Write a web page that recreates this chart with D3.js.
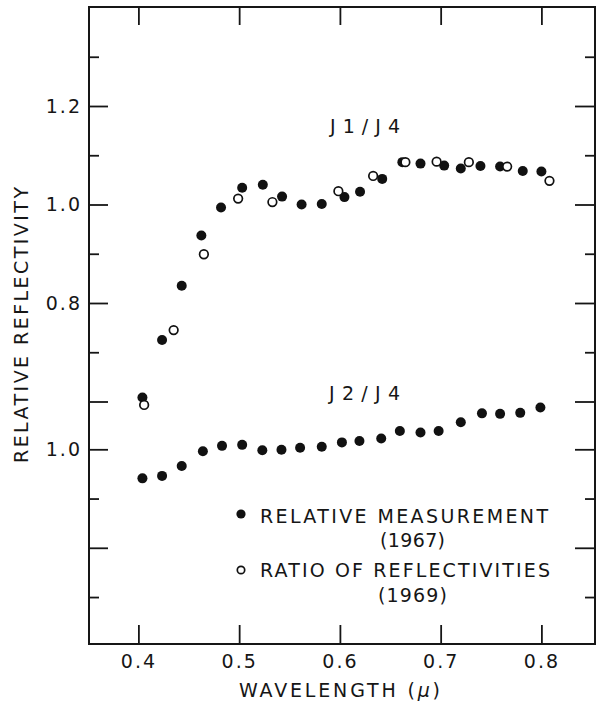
<!DOCTYPE html>
<html>
<head>
<meta charset="utf-8">
<title>Relative reflectivity</title>
<style>
body { margin: 0; background: #fff; }
text {
  fill: #161616;
  font-family: "DejaVu Sans", sans-serif;
  font-size: 19px;
}
.axis line { stroke: #161616; stroke-width: 1.8px; }
.axis path { display: none; }
.axis text { letter-spacing: 2px; }
.frame { fill: none; stroke: #161616; stroke-width: 2px; }
circle.filled { fill: #111; }
circle.open { fill: #fff; stroke: #111; stroke-width: 1.7px; }
</style>
</head>
<body>
<script src="https://cdn.jsdelivr.net/npm/d3@7"></script>
<script>

// J1/J4, relative measurement (1967)
var j1Wave = [0.404, 0.4235, 0.443, 0.4625, 0.482, 0.503, 0.5235, 0.5426, 0.562, 0.582, 0.6045,
              0.620, 0.642, 0.662, 0.680, 0.7035, 0.720, 0.7395, 0.759, 0.7815, 0.800];
var j1Meas = [0.608, 0.725, 0.835, 0.937, 0.994, 1.034, 1.040, 1.016, 1.000, 1.001, 1.015,
              1.026, 1.052, 1.086, 1.083, 1.079, 1.073, 1.078, 1.077, 1.068, 1.067];

// J1/J4, ratio of reflectivities (1969)
var j1RatioWave = [0.4057, 0.435, 0.465, 0.499, 0.533, 0.5985, 0.633, 0.665, 0.696, 0.728, 0.766, 0.808];
var j1Ratio     = [0.593, 0.745, 0.899, 1.012, 1.005, 1.027, 1.058, 1.086, 1.087, 1.086, 1.077, 1.048];

// J2/J4, relative measurement (1967)
var j2Wave = [0.404, 0.4235, 0.443, 0.464, 0.483, 0.503, 0.523, 0.542, 0.5605, 0.582, 0.602,
              0.6194, 0.641, 0.6595, 0.680, 0.698, 0.720, 0.741, 0.759, 0.779, 0.799];
var j2Meas = [0.941, 0.946, 0.966, 0.996, 1.007, 1.009, 0.998, 0.999, 1.003, 1.005, 1.014,
              1.017, 1.022, 1.037, 1.034, 1.037, 1.055, 1.073, 1.072, 1.074, 1.085];

var xTicks = [0.4, 0.5, 0.6, 0.7, 0.8];
var upperMajor = [1.2, 1.0, 0.8, 0.6],
    upperMinor = [1.3, 1.1, 0.9, 0.7],
    upperLabels = [1.2, 1.0, 0.8];
var lowerMajor = [1.0, 0.8],
    lowerMinor = [0.9, 0.7],
    lowerLabels = [1.0];

var width = 601, height = 702;
var fLeft = 89, fRight = 595, fTop = 7, fBottom = 644;

var svg = d3.select("body").append("svg")
    .attr("width", width)
    .attr("height", height);

var x = d3.scaleLinear().domain([0.4, 0.8]).range([138.4, 541.4]);
var yUp = d3.scaleLinear().domain([1.2, 0.8]).range([106, 303]);
var yLow = d3.scaleLinear().domain([1.0, 0.8]).range([449.3, 547.8]);

var fmt = d3.format(".1f");
function labelOnly(list) {
  return function(d) { return list.indexOf(d) >= 0 ? fmt(d) : ""; };
}

// bottom and top ticks point inward
svg.append("g").attr("class", "axis")
    .attr("transform", "translate(0," + fBottom + ")")
    .call(d3.axisBottom(x).tickValues(xTicks).tickSize(-19).tickPadding(11).tickFormat(fmt));
svg.append("g").attr("class", "axis")
    .attr("transform", "translate(0," + fTop + ")")
    .call(d3.axisTop(x).tickValues(xTicks).tickSize(-18).tickFormat(""));

// left and right sides: two stacked scales
function sideTicks(scale, major, minor, labels) {
  svg.append("g").attr("class", "axis")
      .attr("transform", "translate(" + fLeft + ",0)")
      .call(d3.axisLeft(scale).tickValues(major).tickSize(-19).tickPadding(7).tickFormat(labelOnly(labels)));
  svg.append("g").attr("class", "axis")
      .attr("transform", "translate(" + fLeft + ",0)")
      .call(d3.axisLeft(scale).tickValues(minor).tickSize(-10).tickFormat(""));
  svg.append("g").attr("class", "axis")
      .attr("transform", "translate(" + fRight + ",0)")
      .call(d3.axisRight(scale).tickValues(major).tickSize(-20).tickFormat(""));
  svg.append("g").attr("class", "axis")
      .attr("transform", "translate(" + fRight + ",0)")
      .call(d3.axisRight(scale).tickValues(minor).tickSize(-10).tickFormat(""));
}
sideTicks(yUp, upperMajor, upperMinor, upperLabels);
sideTicks(yLow, lowerMajor, lowerMinor, lowerLabels);

svg.append("rect").attr("class", "frame")
    .attr("x", fLeft).attr("y", fTop)
    .attr("width", fRight - fLeft).attr("height", fBottom - fTop);

// points
function dots(wave, vals, scale, cls, r) {
  svg.append("g").selectAll("circle")
      .data(d3.zip(wave, vals))
      .enter().append("circle")
      .attr("class", cls)
      .attr("cx", function(d) { return x(d[0]); })
      .attr("cy", function(d) { return scale(d[1]); })
      .attr("r", r);
}
dots(j1Wave, j1Meas, yUp, "filled", 5);
dots(j1RatioWave, j1Ratio, yUp, "open", 4.3);
dots(j2Wave, j2Meas, yLow, "filled", 5);

// labels
function label(txt, xPos, yPos, len) {
  return svg.append("text")
      .attr("x", xPos).attr("y", yPos)
      .attr("textLength", len)
      .attr("lengthAdjust", "spacing")
      .text(txt);
}
label("J1/J4", 330, 133, 70);
label("J2/J4", 329, 400, 71);

var xl = svg.append("text")
    .attr("x", 239).attr("y", 697)
    .attr("textLength", 201)
    .attr("lengthAdjust", "spacing");
xl.append("tspan").text("WAVELENGTH (");
xl.append("tspan").style("font-style", "italic").text("μ");
xl.append("tspan").text(")");

svg.append("text")
    .attr("transform", "translate(28,463) rotate(-90)")
    .attr("textLength", 276)
    .attr("lengthAdjust", "spacing")
    .text("RELATIVE REFLECTIVITY");

// legend
svg.append("circle").attr("class", "filled").attr("cx", 241).attr("cy", 514).attr("r", 4.6);
svg.append("circle").attr("class", "open").attr("cx", 241).attr("cy", 570).attr("r", 3.7);
label("RELATIVE  MEASUREMENT", 260, 523, 288);
label("(1967)", 380, 547, 65);
label("RATIO OF REFLECTIVITIES", 260, 577, 290);
label("(1969)", 378, 602, 69);

</script>
</body>
</html>
